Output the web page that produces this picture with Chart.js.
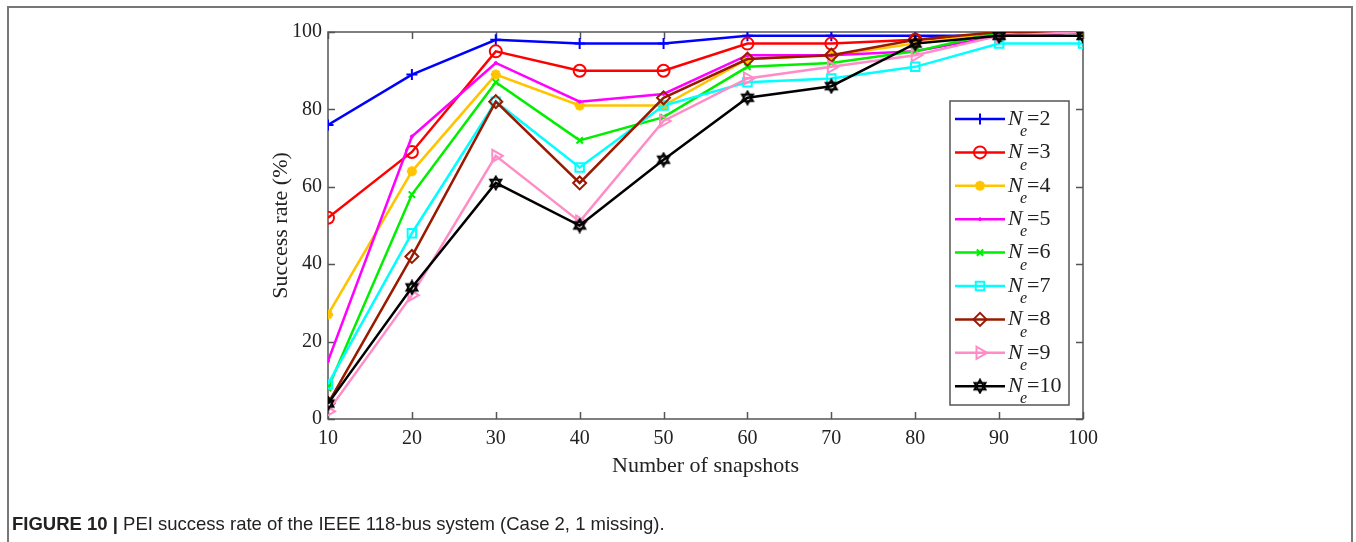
<!DOCTYPE html>
<html><head><meta charset="utf-8">
<script src="https://cdn.jsdelivr.net/npm/chart.js@4/dist/chart.umd.min.js"></script>
<style>
html,body{margin:0;padding:0;background:#fff;width:1356px;height:542px;overflow:hidden;}
#frame{position:absolute;left:7px;top:6px;width:1346px;height:580px;border:2px solid #777;box-sizing:border-box;}
#wrap{position:absolute;left:0;top:0;width:1356px;height:542px;}
#caption{position:absolute;left:12px;top:513px;font-family:'Liberation Sans',Arial,sans-serif;font-size:18.5px;color:#222;white-space:nowrap;}
#caption b{font-weight:bold;}
</style></head><body>
<div id="frame"></div>
<div id="wrap"><canvas id="c" width="1356" height="542"></canvas></div>
<div id="caption"><b>FIGURE 10 |</b> PEI success rate of the IEEE 118-bus system (Case 2, 1 missing).</div>
<script>
// ---- data ----
const snapshots = [10, 20, 30, 40, 50, 60, 70, 80, 90, 100];
const ne2  = [76, 89, 98, 97, 97, 99, 99, 99, 99, 100];
const ne3  = [52, 69, 95, 90, 90, 97, 97, 98, 99, 100];
const ne4  = [27, 64, 89, 81, 81, 93, 94, 97, 100, 100];
const ne5  = [15, 73, 92, 82, 84, 94, 94, 95, 99, 100];
const ne6  = [8, 58, 87, 72, 78, 91, 92, 95, 100, 100];
const ne7  = [9, 48, 82, 65, 81, 87, 88, 91, 97, 97];
const ne8  = [4, 42, 82, 61, 83, 93, 94, 98, 100, 100];
const ne9  = [2, 32, 68, 51, 77, 88, 91, 94, 99, 100];
const ne10 = [4, 34, 61, 50, 67, 83, 86, 97, 99, 99];
const neLabels = ['2', '3', '4', '5', '6', '7', '8', '9', '10'];
const xTicks = [10, 20, 30, 40, 50, 60, 70, 80, 90, 100];
const yTicks = [0, 20, 40, 60, 80, 100];
const xTitle = 'Number of snapshots';
const yTitle = 'Success rate (%)';

// ---- styles ----
function hexagram(size, color) {
  const c = document.createElement('canvas');
  c.width = c.height = size;
  const g = c.getContext('2d');
  const r = size / 2 - 1.5, cx = size / 2, cy = size / 2;
  g.strokeStyle = color; g.lineWidth = 1.8; g.lineJoin = 'miter';
  for (const off of [-Math.PI / 2, Math.PI / 2]) {
    g.beginPath();
    for (let k = 0; k < 3; k++) {
      const a = off + k * 2 * Math.PI / 3;
      const px = cx + r * Math.cos(a), py = cy + r * Math.sin(a);
      if (k) g.lineTo(px, py); else g.moveTo(px, py);
    }
    g.closePath(); g.stroke();
  }
  return c;
}
const seriesData = [ne2, ne3, ne4, ne5, ne6, ne7, ne8, ne9, ne10];
const styles = [
  {color: '#0000ff', style: 'cross', r: 5.5, bw: 2, fill: 'transparent', rot: 0},
  {color: '#ff0000', style: 'circle', r: 6, bw: 2, fill: 'transparent', rot: 0},
  {color: '#ffc400', style: 'star', r: 5, bw: 3, fill: 'transparent', rot: 0},
  {color: '#ff00ff', style: 'circle', r: 1.5, bw: 1, fill: '#ff00ff', rot: 0},
  {color: '#00ee00', style: 'crossRot', r: 4.5, bw: 2, fill: 'transparent', rot: 0},
  {color: '#00ffff', style: 'rect', r: 6, bw: 2, fill: 'transparent', rot: 0},
  {color: '#991a00', style: 'rectRot', r: 6.5, bw: 2, fill: 'transparent', rot: 0},
  {color: '#ff8cc6', style: 'triangle', r: 7, bw: 2, fill: 'transparent', rot: 90},
  {color: '#000000', style: hexagram(16, '#000'), r: 7, bw: 2, fill: 'transparent', rot: 0}
];

const datasets = seriesData.map((d, i) => ({
  label: 'Ne=' + neLabels[i],
  data: snapshots.map((x, j) => ({x: x, y: d[j]})),
  borderColor: styles[i].color,
  backgroundColor: styles[i].fill,
  borderWidth: 2.5,
  pointStyle: styles[i].style,
  pointRadius: styles[i].r,
  pointHoverRadius: styles[i].r,
  pointBorderWidth: styles[i].bw,
  pointRotation: styles[i].rot,
  pointBackgroundColor: styles[i].fill,
  pointBorderColor: styles[i].color,
  tension: 0,
  order: 20 - i
}));

const serif = "'Liberation Serif', 'Times New Roman', Times, serif";
Chart.defaults.font.family = serif;
Chart.defaults.color = '#222';

const boxPlugin = {
  id: 'boxTicks',
  beforeDatasetsDraw(chart) {
    const {ctx, chartArea: a, scales: {x, y}} = chart;
    ctx.save();
    ctx.strokeStyle = '#555';
    ctx.lineWidth = 1.5;
    ctx.strokeRect(a.left, a.top, a.right - a.left, a.bottom - a.top);
    const tl = 7;
    ctx.beginPath();
    xTicks.forEach(v => {
      const px = Math.round(x.getPixelForValue(v)) + 0.5;
      ctx.moveTo(px, a.bottom); ctx.lineTo(px, a.bottom - tl);
      ctx.moveTo(px, a.top); ctx.lineTo(px, a.top + tl);
    });
    yTicks.forEach(v => {
      const py = Math.round(y.getPixelForValue(v)) + 0.5;
      ctx.moveTo(a.left, py); ctx.lineTo(a.left + tl, py);
      ctx.moveTo(a.right, py); ctx.lineTo(a.right - tl, py);
    });
    ctx.stroke();
    ctx.restore();
  },
  afterDatasetsDraw(chart) {
    const {ctx} = chart;
    const L = 950, T = 101, R = 1069, B = 405;
    ctx.save();
    ctx.fillStyle = '#fff';
    ctx.fillRect(L, T, R - L, B - T);
    ctx.strokeStyle = '#555';
    ctx.lineWidth = 1.5;
    ctx.strokeRect(L, T, R - L, B - T);
    const y0 = 119, dy = 33.4;
    chart.data.datasets.forEach((ds, i) => {
      const yy = y0 + i * dy;
      ctx.strokeStyle = ds.borderColor;
      ctx.lineWidth = 2.5;
      ctx.beginPath(); ctx.moveTo(955, yy); ctx.lineTo(1005, yy); ctx.stroke();
      ctx.fillStyle = ds.pointBackgroundColor;
      ctx.strokeStyle = ds.pointBorderColor;
      ctx.lineWidth = ds.pointBorderWidth;
      Chart.helpers.drawPoint(ctx, {pointStyle: ds.pointStyle, rotation: ds.pointRotation,
        radius: ds.pointRadius, borderWidth: ds.pointBorderWidth}, 980, yy);
      ctx.fillStyle = '#222';
      ctx.textBaseline = 'middle';
      ctx.textAlign = 'left';
      ctx.font = 'italic 22px ' + serif;
      ctx.fillText('N', 1008, yy);
      ctx.font = 'italic 16px ' + serif;
      ctx.fillText('e', 1020, yy + 13);
      ctx.font = '22px ' + serif;
      ctx.fillText('=' + neLabels[i], 1027, yy);
    });
    ctx.restore();
  }
};

new Chart(document.getElementById('c'), {
  type: 'line',
  data: {datasets: datasets},
  options: {
    responsive: false,
    animation: false,
    events: [],
    layout: {padding: {left: 0, right: 273, top: 32, bottom: 0}},
    plugins: {legend: {display: false}, tooltip: {enabled: false}},
    scales: {
      x: {
        type: 'linear', min: 10, max: 100,
        afterBuildTicks: s => { s.ticks = xTicks.map(v => ({value: v})); },
        afterFit: s => { s.height = 123; },
        grid: {display: false, drawTicks: false},
        border: {display: false},
        ticks: {font: {size: 20}, padding: 8, color: '#222'},
        title: {display: true, text: xTitle, font: {size: 22}, color: '#222', padding: {top: 0, bottom: 63}}
      },
      y: {
        type: 'linear', min: 0, max: 100,
        afterBuildTicks: s => { s.ticks = yTicks.map(v => ({value: v})); },
        afterFit: s => { s.width = 328; },
        grid: {display: false, drawTicks: false},
        border: {display: false},
        ticks: {font: {size: 20}, padding: 6, color: '#222'},
        title: {display: true, text: yTitle, font: {size: 22}, color: '#222', padding: {top: 268, bottom: 0}}
      }
    }
  },
  plugins: [boxPlugin]
});
</script>
</body></html>
